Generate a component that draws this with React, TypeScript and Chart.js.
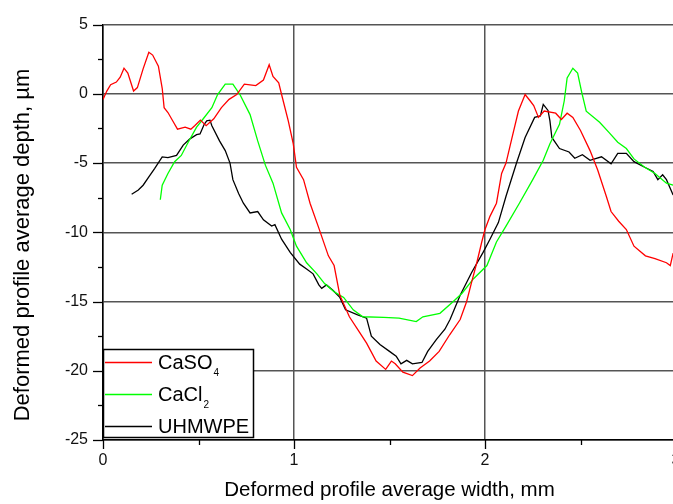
import React, { useEffect, useRef } from 'react';
import { Chart, registerables } from 'chart.js';

Chart.register(...registerables);

const FONT = "'Liberation Sans', Arial, Helvetica, sans-serif";

// ---------- data ----------
const seriesNames = ['CaSO4', 'CaCl2', 'UHMWPE'];
const legendBase = ['CaSO', 'CaCl', 'UHMWPE'];
const legendSub = ['4', '2', ''];
const seriesColors = ['#ff0000', '#00ff00', '#000000'];

const xAxisTitle = 'Deformed profile average width, mm';
const yAxisTitle = 'Deformed profile average depth, µm';

const caso4Width = [0, 0.02, 0.04, 0.07, 0.09, 0.11, 0.13, 0.16, 0.18, 0.21, 0.24, 0.26, 0.29, 0.31, 0.32, 0.34, 0.37, 0.39, 0.43, 0.46, 0.48, 0.51, 0.54, 0.58, 0.62, 0.66, 0.70, 0.74, 0.77, 0.80, 0.84, 0.87, 0.89, 0.92, 0.935, 0.97, 0.996, 1.013, 1.05, 1.084, 1.13, 1.18, 1.21, 1.24, 1.29, 1.34, 1.38, 1.43, 1.48, 1.51, 1.53, 1.57, 1.62, 1.66, 1.71, 1.76, 1.815, 1.87, 1.904, 1.93, 1.957, 1.983, 2.0, 2.026, 2.06, 2.087, 2.11, 2.14, 2.175, 2.21, 2.236, 2.255, 2.28, 2.31, 2.37, 2.40, 2.43, 2.46, 2.50, 2.55, 2.59, 2.635, 2.66, 2.70, 2.74, 2.78, 2.84, 2.89, 2.95, 2.97, 2.985];
const caso4Depth = [-0.4, 0.2, 0.66, 0.85, 1.2, 1.85, 1.5, 0.2, 0.45, 1.8, 3.0, 2.8, 2.0, 0.4, -1.0, -1.35, -2.07, -2.55, -2.4, -2.55, -2.3, -1.9, -2.3, -1.8, -1.0, -0.4, -0.05, 0.7, 0.65, 0.6, 1.0, 2.1, 1.25, 0.8, -0.05, -1.95, -3.6, -5.3, -6.2, -7.9, -9.7, -11.7, -12.4, -14.55, -16.1, -17.15, -18.0, -19.3, -19.9, -19.3, -19.5, -20.1, -20.35, -19.8, -19.3, -18.6, -17.4, -16.3, -15.0, -13.6, -12.2, -10.7, -9.8, -8.85, -7.9, -5.75, -5.0, -3.25, -1.24, -0.05, -0.5, -0.85, -1.7, -1.24, -1.4, -1.85, -1.4, -1.7, -2.65, -4.1, -5.5, -7.4, -8.5, -9.2, -9.8, -11.0, -11.7, -11.9, -12.2, -12.4, -11.5];

const cacl2Width = [0.30, 0.31, 0.34, 0.375, 0.41, 0.446, 0.49, 0.525, 0.57, 0.60, 0.64, 0.68, 0.717, 0.77, 0.81, 0.85, 0.89, 0.935, 0.98, 1.013, 1.066, 1.12, 1.16, 1.21, 1.26, 1.31, 1.36, 1.47, 1.55, 1.64, 1.675, 1.764, 1.834, 1.88, 1.94, 2.01, 2.06, 2.11, 2.18, 2.25, 2.305, 2.34, 2.39, 2.415, 2.43, 2.46, 2.485, 2.505, 2.53, 2.60, 2.65, 2.695, 2.74, 2.78, 2.836, 2.89, 2.95, 2.985];
const cacl2Depth = [-7.65, -6.6, -5.75, -4.9, -4.45, -3.5, -2.4, -1.8, -1.0, -0.05, 0.7, 0.7, -0.05, -1.5, -3.4, -5.15, -6.45, -8.6, -9.8, -11.0, -12.2, -13.0, -13.7, -14.3, -14.7, -15.6, -16.1, -16.15, -16.2, -16.45, -16.1, -15.85, -15.0, -14.4, -13.35, -12.4, -10.7, -9.55, -7.9, -6.2, -4.8, -3.6, -2.2, -0.5, 1.15, 1.85, 1.5, 0.2, -1.25, -2.05, -2.8, -3.5, -3.95, -4.7, -5.3, -5.75, -6.45, -6.6];

const uhmwpeWidth = [0.15, 0.185, 0.21, 0.24, 0.27, 0.31, 0.34, 0.385, 0.42, 0.455, 0.49, 0.508, 0.53, 0.543, 0.56, 0.57, 0.61, 0.64, 0.665, 0.68, 0.71, 0.735, 0.77, 0.81, 0.84, 0.883, 0.90, 0.935, 0.98, 1.03, 1.066, 1.10, 1.13, 1.145, 1.17, 1.205, 1.24, 1.27, 1.33, 1.38, 1.405, 1.45, 1.50, 1.535, 1.56, 1.59, 1.62, 1.67, 1.70, 1.745, 1.79, 1.817, 1.87, 1.93, 1.99, 2.026, 2.07, 2.11, 2.165, 2.21, 2.26, 2.29, 2.305, 2.33, 2.34, 2.35, 2.39, 2.44, 2.47, 2.51, 2.55, 2.61, 2.66, 2.695, 2.74, 2.78, 2.836, 2.88, 2.905, 2.93, 2.95, 2.985];
const uhmwpeDepth = [-7.25, -6.95, -6.6, -6.0, -5.4, -4.55, -4.6, -4.45, -3.7, -3.25, -2.95, -2.9, -2.2, -1.95, -1.9, -2.3, -3.4, -4.1, -5.0, -6.2, -7.2, -7.9, -8.6, -8.5, -9.1, -9.55, -9.45, -10.5, -11.45, -12.3, -12.65, -13.0, -13.8, -14.05, -13.8, -14.2, -14.7, -15.6, -15.95, -16.2, -17.5, -18.1, -18.6, -18.95, -19.5, -19.25, -19.5, -19.4, -18.6, -17.75, -17.0, -16.3, -14.55, -12.9, -11.45, -10.5, -9.3, -7.4, -5.0, -3.15, -1.7, -1.6, -0.76, -1.2, -1.95, -3.15, -3.95, -4.2, -4.65, -4.4, -4.8, -4.55, -5.05, -4.3, -4.3, -4.9, -5.3, -5.6, -6.2, -5.85, -6.2, -7.3];

const X_MIN = 0, X_MAX = 3, X_MAJOR = 1, X_MINOR = 0.5;
const Y_MIN = -25, Y_MAX = 5, Y_MAJOR = 5, Y_MINOR = 2.5;

const toPoints = (xs: number[], ys: number[]) => xs.map((x, i) => ({ x, y: ys[i] }));

const decorPlugin = {
  id: 'decor',
  afterDraw(chart: any) {
    const { ctx, chartArea, scales } = chart;
    const xs = scales.x, ys = scales.y;
    ctx.save();
    // tick marks (outward)
    ctx.strokeStyle = '#000';
    ctx.lineWidth = 1.3;
    for (let v = Y_MIN; v <= Y_MAX + 1e-9; v += Y_MINOR) {
      const py = Math.round(ys.getPixelForValue(v)) + 0.5;
      const major = Math.abs(v / Y_MAJOR - Math.round(v / Y_MAJOR)) < 1e-6;
      const len = major ? 10 : 5;
      ctx.beginPath();
      ctx.moveTo(chartArea.left - len, py);
      ctx.lineTo(chartArea.left, py);
      ctx.stroke();
    }
    for (let v = X_MIN; v <= X_MAX + 1e-9; v += X_MINOR) {
      const px = Math.round(xs.getPixelForValue(v)) + 0.5;
      const major = Math.abs(v / X_MAJOR - Math.round(v / X_MAJOR)) < 1e-6;
      const len = major ? 9 : 5;
      ctx.beginPath();
      ctx.moveTo(px, chartArea.bottom);
      ctx.lineTo(px, chartArea.bottom + len);
      ctx.stroke();
    }

    // legend box
    const bx = chartArea.left, bw = 150;
    const by = 349, bh = chartArea.bottom - 3 - by;
    ctx.fillStyle = '#fff';
    ctx.fillRect(bx, by, bw, bh);
    ctx.strokeStyle = '#000';
    ctx.lineWidth = 1.5;
    ctx.strokeRect(bx + 0.5, by + 0.5, bw, bh);
    const rows = [362, 394, 426];
    legendBase.forEach((name, i) => {
      const ly = rows[i] + 0.5;
      ctx.strokeStyle = seriesColors[i];
      ctx.lineWidth = 1.3;
      ctx.beginPath();
      ctx.moveTo(bx + 2, ly);
      ctx.lineTo(bx + 49, ly);
      ctx.stroke();
      ctx.fillStyle = '#000';
      ctx.font = `20px ${FONT}`;
      ctx.textAlign = 'left';
      ctx.textBaseline = 'alphabetic';
      const tx = bx + 55;
      const baseY = rows[i] + 7;
      ctx.fillText(name, tx, baseY);
      if (legendSub[i]) {
        const w = ctx.measureText(name).width;
        ctx.font = `10px ${FONT}`;
        ctx.fillText(legendSub[i], tx + w + 1, baseY + 7);
      }
    });

    // y axis title
    ctx.translate(23, 245);
    ctx.rotate(-Math.PI / 2);
    ctx.fillStyle = '#000';
    ctx.font = `22px ${FONT}`;
    ctx.textAlign = 'center';
    ctx.textBaseline = 'middle';
    ctx.fillText(yAxisTitle, 0, 0);
    ctx.restore();
  },
};

export default function App() {
  const ref = useRef<HTMLCanvasElement | null>(null);
  useEffect(() => {
    if (!ref.current) return;
    const series = [
      toPoints(caso4Width, caso4Depth),
      toPoints(cacl2Width, cacl2Depth),
      toPoints(uhmwpeWidth, uhmwpeDepth),
    ];
    const chart = new Chart(ref.current, {
      type: 'line',
      data: {
        datasets: seriesNames.map((label, i) => ({
          label,
          data: series[i],
          borderColor: seriesColors[i],
          backgroundColor: seriesColors[i],
          borderWidth: 1.3,
          pointRadius: 0,
          tension: 0,
          fill: false,
        })),
      },
      options: {
        responsive: false,
        animation: false,
        parsing: false as any,
        layout: { padding: { left: 0, top: 19, right: 44, bottom: 0 } },
        plugins: { legend: { display: false }, tooltip: { enabled: false } },
        scales: {
          x: {
            type: 'linear',
            min: X_MIN,
            max: X_MAX,
            afterFit: (s: any) => { s.height = 64; },
            ticks: {
              stepSize: X_MAJOR,
              color: '#111',
              font: { family: FONT, size: 16 },
              padding: 11,
              maxRotation: 0,
            },
            grid: { color: '#555', lineWidth: 1.5, drawTicks: false },
            border: { display: true, color: '#000', width: 1.5 },
            title: {
              display: true,
              text: xAxisTitle,
              color: '#000',
              font: { family: FONT, size: 20.5 },
              padding: { top: 0, bottom: 1 },
            },
          },
          y: {
            type: 'linear',
            min: Y_MIN,
            max: Y_MAX,
            afterFit: (s: any) => { s.width = 103; },
            ticks: {
              stepSize: Y_MAJOR,
              color: '#111',
              font: { family: FONT, size: 16 },
              padding: 15,
            },
            grid: { color: '#555', lineWidth: 1.5, drawTicks: false },
            border: { display: true, color: '#000', width: 1.5 },
          },
        },
      },
      plugins: [decorPlugin],
    });
    return () => chart.destroy();
  }, []);
  return (
    <div style={{ position: 'fixed', left: 0, top: 0, width: 673, height: 504, overflow: 'hidden', background: '#fff' }}>
      <canvas ref={ref} width={720} height={504} style={{ width: 720, height: 504, display: 'block' }} />
    </div>
  );
}
